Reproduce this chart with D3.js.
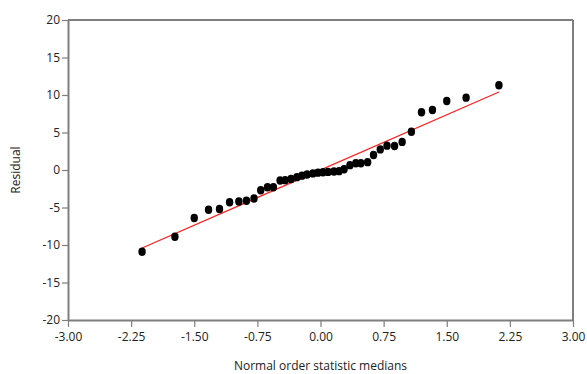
<!DOCTYPE html>
<html>
<head>
<meta charset="utf-8">
<script src="https://cdn.jsdelivr.net/npm/d3@7"></script>
<style>
  body { margin: 0; background: #fff; }
  text { font-family: "Open Sans", "Noto Sans", sans-serif; fill: #222; }
  .axis path, .axis line { stroke: #7f7f7f; }
</style>
</head>
<body>
<script>
// normal order statistic medians (x) and residuals (y)
var medians = [-2.12, -1.73, -1.50, -1.33, -1.20, -1.08, -0.97, -0.88, -0.79, -0.71,
               -0.63, -0.56, -0.48, -0.42, -0.35, -0.28, -0.22, -0.16, -0.09, -0.03,
                0.03,  0.09,  0.16,  0.22,  0.28,  0.35,  0.42,  0.48,  0.56,  0.63,
                0.71,  0.79,  0.88,  0.97,  1.08,  1.20,  1.33,  1.50,  1.73,  2.12];
var residuals = [-10.9, -8.9, -6.4, -5.3, -5.2, -4.3, -4.2, -4.1, -3.8, -2.7,
                 -2.3, -2.3, -1.4, -1.35, -1.2, -0.95, -0.75, -0.6, -0.45, -0.35,
                 -0.3, -0.25, -0.2, -0.15, 0.1, 0.65, 0.9, 0.9, 1.05, 2.0,
                 2.75, 3.25, 3.2, 3.75, 5.1, 7.7, 8.0, 9.2, 9.65, 11.3];
var fitX = [-2.12, 2.12];
var fitY = [-10.4, 10.4];
var xTicks = [-3, -2.25, -1.5, -0.75, 0, 0.75, 1.5, 2.25, 3];
var yTicks = [-20, -15, -10, -5, 0, 5, 10, 15, 20];

var margin = {top: 20, right: 14, bottom: 54, left: 68},
    width = 587 - margin.left - margin.right,
    height = 374 - margin.top - margin.bottom;

var x = d3.scaleLinear().domain([-3, 3]).range([0, width]);
var y = d3.scaleLinear().domain([-20, 20]).range([height, 0]);

// plain hyphen for negatives, like the original
var fmtX = function(d) { return d.toFixed(2); };
var fmtY = function(d) { return String(d); };

var svg = d3.select("body").append("svg")
    .attr("width", 587)
    .attr("height", 374);

var main = svg.append("g")
    .attr("transform", "translate(" + margin.left + "," + margin.top + ")");

// frame top and right
main.append("line")
    .attr("x1", 0).attr("x2", width).attr("y1", 0).attr("y2", 0)
    .attr("stroke", "#7f7f7f").attr("stroke-width", 2);
main.append("line")
    .attr("x1", width).attr("x2", width).attr("y1", 0).attr("y2", height)
    .attr("stroke", "#7f7f7f").attr("stroke-width", 2);

var xAxis = d3.axisBottom(x)
    .tickValues(xTicks)
    .tickSize(7)
    .tickSizeOuter(0)
    .tickFormat(fmtX);

var yAxis = d3.axisLeft(y)
    .tickValues(yTicks)
    .tickSize(6)
    .tickSizeOuter(0)
    .tickFormat(fmtY);

var gx = main.append("g")
    .attr("class", "axis")
    .attr("transform", "translate(0," + height + ")")
    .call(xAxis);
gx.select(".domain").attr("stroke-width", 2);
gx.selectAll(".tick line").attr("stroke-width", 1.2);
gx.selectAll(".tick text").attr("font-size", 12).attr("dy", "0.95em");

var gy = main.append("g")
    .attr("class", "axis")
    .call(yAxis);
gy.select(".domain").attr("stroke-width", 2);
gy.selectAll(".tick line").attr("stroke-width", 1.2);
gy.selectAll(".tick text").attr("font-size", 12).attr("x", -8);

// fitted line
main.append("line")
    .attr("x1", x(fitX[0])).attr("y1", y(fitY[0]))
    .attr("x2", x(fitX[1])).attr("y2", y(fitY[1]))
    .attr("stroke", "#ff2020")
    .attr("stroke-width", 1.3);

// points
main.selectAll(".dot")
    .data(medians)
    .enter().append("ellipse")
    .attr("class", "dot")
    .attr("cx", function(d) { return x(d); })
    .attr("cy", function(d, i) { return y(residuals[i]); })
    .attr("rx", 3.7)
    .attr("ry", 4.2)
    .attr("fill", "#000");

// axis titles
svg.append("text")
    .attr("x", margin.left + width / 2)
    .attr("y", 370)
    .attr("text-anchor", "middle")
    .attr("font-size", 12)
    .text("Normal order statistic medians");

svg.append("text")
    .attr("transform", "translate(20," + (margin.top + height / 2) + ") rotate(-90)")
    .attr("text-anchor", "middle")
    .attr("font-size", 12)
    .text("Residual");
</script>
</body>
</html>
